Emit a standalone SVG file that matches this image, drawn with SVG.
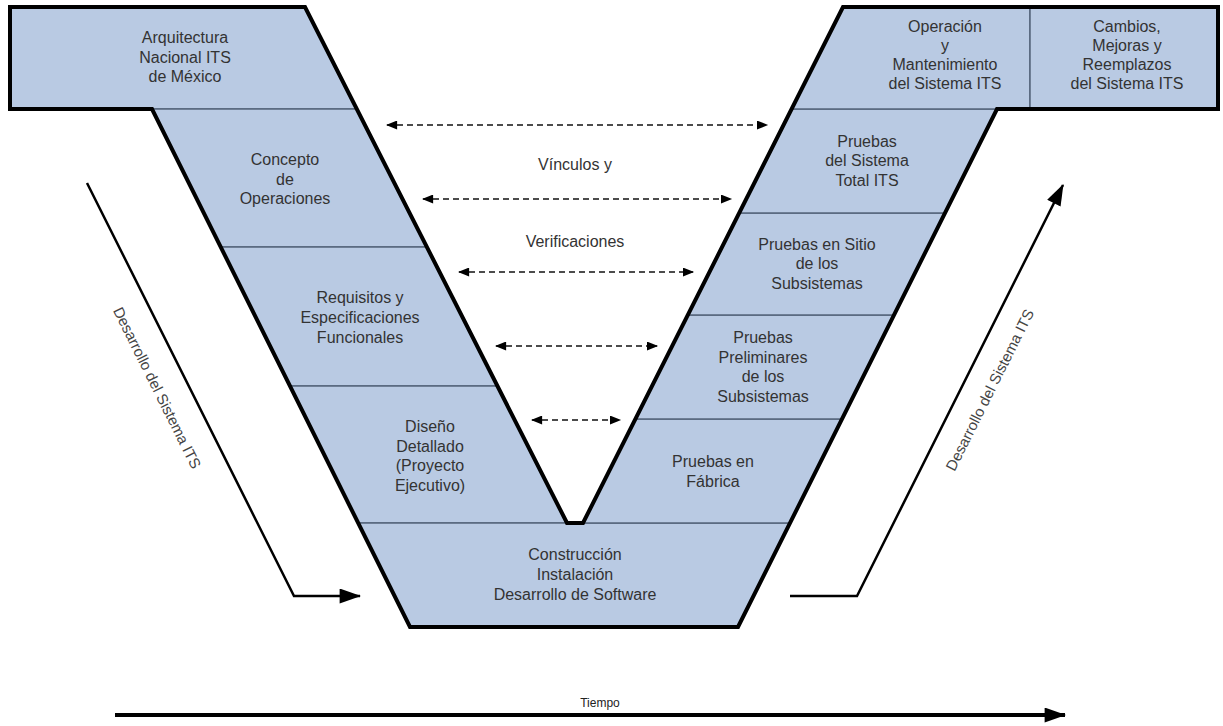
<svg xmlns="http://www.w3.org/2000/svg" width="1223" height="726" viewBox="0 0 1223 726">
  <defs>
    <style>
      .cell { fill: #b9cae3; stroke: #56667c; stroke-width: 1.5; }
      .outline { fill: none; stroke: #000; stroke-width: 4; stroke-linejoin: miter; }
      .lbl { font-family: "Liberation Sans", Arial, sans-serif; font-size: 16px; fill: #333; text-anchor: middle; }
      .side { font-family: "Liberation Sans", Arial, sans-serif; font-size: 15px; fill: #444; text-anchor: middle; }
      .time { font-family: "Liberation Sans", Arial, sans-serif; font-size: 12px; fill: #222; text-anchor: middle; }
      .link { fill: none; stroke: #111; stroke-width: 1.6; stroke-dasharray: 6 4; }
      .flow { fill: none; stroke: #000; stroke-width: 2.5; }
      .axis { fill: none; stroke: #000; stroke-width: 4; }
    </style>
    <marker id="tip" viewBox="0 0 10 8" refX="9" refY="4" markerWidth="12" markerHeight="9" markerUnits="userSpaceOnUse" orient="auto-start-reverse">
      <path d="M0,0 L10,4 L0,8 Z" fill="#000"/>
    </marker>
    <marker id="bigTip" viewBox="0 0 20 14" refX="19" refY="7" markerWidth="22" markerHeight="15" markerUnits="userSpaceOnUse" orient="auto">
      <path d="M0,0 L20,7 L0,14 Z" fill="#000"/>
    </marker>
  </defs>

  <rect width="1223" height="726" fill="#fff"/>

  <!-- left branch: definition phases -->
  <g id="arquitectura">
    <polygon class="cell" points="10,7 305,7 356.8,109 10,109"/>
    <text class="lbl" x="185"><tspan x="185" y="43">Arquitectura</tspan><tspan x="185" y="63">Nacional ITS</tspan><tspan x="185" y="82">de México</tspan></text>
  </g>
  <g id="concepto">
    <polygon class="cell" points="152,109 356.8,109 426.9,247 220.7,247"/>
    <text class="lbl"><tspan x="285" y="165">Concepto</tspan><tspan x="285" y="185">de</tspan><tspan x="285" y="204">Operaciones</tspan></text>
  </g>
  <g id="requisitos">
    <polygon class="cell" points="220.7,247 426.9,247 497.5,386 289.9,386"/>
    <text class="lbl"><tspan x="360" y="303">Requisitos y</tspan><tspan x="360" y="323">Especificaciones</tspan><tspan x="360" y="343">Funcionales</tspan></text>
  </g>
  <g id="diseno">
    <polygon class="cell" points="289.9,386 497.5,386 567,523 358.1,523"/>
    <text class="lbl"><tspan x="430" y="432">Diseño</tspan><tspan x="430" y="452">Detallado</tspan><tspan x="430" y="471">(Proyecto</tspan><tspan x="430" y="491">Ejecutivo)</tspan></text>
  </g>

  <!-- bottom of the V -->
  <g id="construccion">
    <polygon class="cell" points="358.1,523 790,523 738,627 410,627"/>
    <text class="lbl"><tspan x="575" y="560">Construcción</tspan><tspan x="575" y="580">Instalación</tspan><tspan x="575" y="600">Desarrollo de Software</tspan></text>
  </g>

  <!-- right branch: integration and testing phases -->
  <g id="fabrica">
    <polygon class="cell" points="635.4,419 842,419 790,523 583,523"/>
    <text class="lbl"><tspan x="713" y="467">Pruebas en</tspan><tspan x="713" y="487">Fábrica</tspan></text>
  </g>
  <g id="preliminares">
    <polygon class="cell" points="687.8,315 894,315 842,419 635.4,419"/>
    <text class="lbl"><tspan x="763" y="343">Pruebas</tspan><tspan x="763" y="363">Preliminares</tspan><tspan x="763" y="382">de los</tspan><tspan x="763" y="402">Subsistemas</tspan></text>
  </g>
  <g id="sitio">
    <polygon class="cell" points="739.2,213 945,213 894,315 687.8,315"/>
    <text class="lbl"><tspan x="817" y="250">Pruebas en Sitio</tspan><tspan x="817" y="269">de los</tspan><tspan x="817" y="289">Subsistemas</tspan></text>
  </g>
  <g id="sistema-total">
    <polygon class="cell" points="791.7,109 997,109 945,213 739.2,213"/>
    <text class="lbl"><tspan x="867" y="147">Pruebas</tspan><tspan x="867" y="166">del Sistema</tspan><tspan x="867" y="186">Total ITS</tspan></text>
  </g>
  <g id="operacion">
    <polygon class="cell" points="843,7 1030,7 1030,109 791.7,109"/>
    <text class="lbl"><tspan x="945" y="32">Operación</tspan><tspan x="945" y="51">y</tspan><tspan x="945" y="70">Mantenimiento</tspan><tspan x="945" y="89">del Sistema ITS</tspan></text>
  </g>
  <g id="cambios">
    <polygon class="cell" points="1030,7 1218,7 1218,109 1030,109"/>
    <text class="lbl"><tspan x="1127" y="32">Cambios,</tspan><tspan x="1127" y="51">Mejoras y</tspan><tspan x="1127" y="70">Reemplazos</tspan><tspan x="1127" y="89">del Sistema ITS</tspan></text>
  </g>

  <!-- heavy border around the whole V -->
  <polygon class="outline" points="10,7 305,7 567,523 583,523 843,7 1218,7 1218,109 997,109 738,627 410,627 152,109 10,109"/>

  <!-- connectors -->
  <g id="connectors">
    <line class="link" x1="387" y1="125" x2="767" y2="125" marker-start="url(#tip)" marker-end="url(#tip)"/>
    <line class="link" x1="423" y1="199" x2="731" y2="199" marker-start="url(#tip)" marker-end="url(#tip)"/>
    <line class="link" x1="459" y1="272" x2="693" y2="272" marker-start="url(#tip)" marker-end="url(#tip)"/>
    <line class="link" x1="496" y1="346" x2="657" y2="346" marker-start="url(#tip)" marker-end="url(#tip)"/>
    <line class="link" x1="532" y1="420" x2="620" y2="420" marker-start="url(#tip)" marker-end="url(#tip)"/>

    <polyline class="flow" points="87,183 294,596 360,596" marker-end="url(#bigTip)"/>
    <polyline class="flow" points="790,596 857,596 1063,185" marker-end="url(#bigTip)"/>
    <line class="axis" x1="115" y1="715" x2="1065" y2="715" marker-end="url(#bigTip)"/>
  </g>

  <!-- link labels -->
  <text class="lbl" x="575" y="170">Vínculos y</text>
  <text class="lbl" x="575" y="247">Verificaciones</text>

  <!-- side and time axis labels -->
  <text class="side" transform="translate(157,388) rotate(63.5)" x="0" y="5">Desarrollo del Sistema ITS</text>
  <text class="side" transform="translate(990,390) rotate(-63.4)" x="0" y="5">Desarrollo del Sistema ITS</text>
  <text class="time" x="600" y="707">Tiempo</text>
</svg>
